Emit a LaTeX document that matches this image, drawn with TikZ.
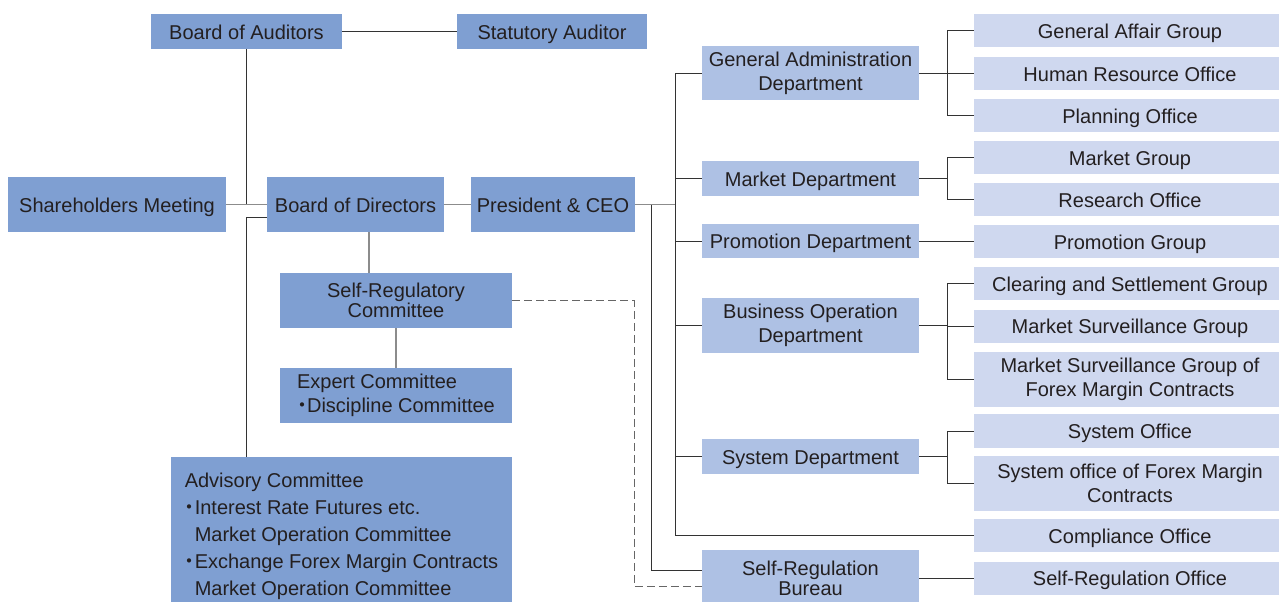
\documentclass[tikz,border=0pt]{standalone}
\usepackage{fontspec}
\setmainfont{Liberation Sans}
\newfontfamily\cjk{Noto Sans CJK JP}
\usepackage{tikz}
\usetikzlibrary{calc}

\definecolor{topblue}{RGB}{127,159,210}
\definecolor{deptblue}{RGB}{174,193,228}
\definecolor{grpblue}{RGB}{207,216,239}
\definecolor{ink}{RGB}{35,31,32}

% bullet and matching indent for the committee lists
\newcommand{\nakaguro}{\makebox[7.5pt]{\cjk ・}}
\newcommand{\indentdot}{\hspace*{7.5pt}}

\tikzset{
  boxsize/.style 2 args={minimum width=#1*0.75pt, minimum height=#2*0.75pt},
  orgbox/.style={inner sep=0pt, align=center, text=ink, font=\fontsize{15}{18}\selectfont},
  oneline/.style={text height=13pt, text depth=1.75pt},
  topbox/.style={orgbox, fill=topblue},
  deptbox/.style={orgbox, fill=deptblue, boxsize={217}{#1}},
  deptbox/.default=35,
  grpbox/.style={orgbox, fill=grpblue, boxsize={312}{#1}},
  grpbox/.default=33,
  link/.style={draw=black!80, line width=0.75pt},
  mainlink/.style={draw=black!45, line width=1.1pt},
  duallink/.style={draw=black!60, line width=0.75pt, dash pattern=on 6pt off 3pt},
}

\begin{document}
\begin{tikzpicture}[x=0.75pt, y=-0.75pt]
\useasboundingbox (0,0) rectangle (1279,601);

% governing bodies
\node[topbox, oneline, boxsize={191}{35}] (aud) at (246.5,31.5) {Board of Auditors};
\node[topbox, oneline, boxsize={190}{35}] (stat) at (552,31.5) {Statutory Auditor};
\node[topbox, oneline, boxsize={218}{55}] (share) at (117,204.5) {Shareholders Meeting};
\node[topbox, oneline, boxsize={177}{55}] (bod) at (355.5,204.5) {Board of Directors};
\node[topbox, oneline, boxsize={164}{55}] (ceo) at (553,204.5) {President \& CEO};
\node[topbox, boxsize={232}{55}, font=\fontsize{15}{15}\selectfont] (src) at (396,300.5) {Self-Regulatory\\Committee};
\node[topbox, boxsize={232}{55}, align=left] (exp) at (396,395.5) {Expert Committee\\\nakaguro Discipline Committee};
\node[topbox, boxsize={341}{158}, align=left, font=\fontsize{15}{20.25}\selectfont] (adv) at (341.5,536)
  {Advisory Committee\\\nakaguro Interest Rate Futures etc.\\\indentdot Market Operation Committee\\\nakaguro Exchange Forex Margin Contracts\\\indentdot Market Operation Committee};

% departments
\node[deptbox=54] (gad) at (810.5,73) {General Administration\\Department};
\node[deptbox, oneline] (mkt) at (810.5,178.5) {Market Department};
\node[deptbox=34, oneline] (prm) at (810.5,241) {Promotion Department};
\node[deptbox=55] (bop) at (810.5,325) {Business Operation\\Department};
\node[deptbox, oneline] (sys) at (810.5,456.5) {System Department};
\node[deptbox=56, font=\fontsize{15}{15}\selectfont] (srb) at (810.5,578) {Self-Regulation\\Bureau};

% groups and offices
\node[grpbox, oneline] (gag) at (1130,30.5) {General Affair Group};
\node[grpbox, oneline] (hro) at (1130,73.5) {Human Resource Office};
\node[grpbox, oneline] (plo) at (1130,115.5) {Planning Office};
\node[grpbox, oneline] (mkg) at (1130,157.5) {Market Group};
\node[grpbox, oneline] (rso) at (1130,199.5) {Research Office};
\node[grpbox, oneline] (prg) at (1130,241.5) {Promotion Group};
\node[grpbox, oneline] (csg) at (1130,283.5) {Clearing and Settlement Group};
\node[grpbox, oneline] (msg) at (1130,326) {Market Surveillance Group};
\node[grpbox=55] (msf) at (1130,379.5) {Market Surveillance Group of\\Forex Margin Contracts};
\node[grpbox=34, oneline] (syo) at (1130,431) {System Office};
\node[grpbox=55] (sof) at (1130,483.5) {System office of Forex Margin\\Contracts};
\node[grpbox, oneline] (cmp) at (1130,535.5) {Compliance Office};
\node[grpbox, oneline] (sro) at (1130,578) {Self-Regulation Office};

% left side links
\draw[link] (aud.east) -- (stat.west);
\draw[link] (aud.south) -- (aud.south |- share.east);
\draw[mainlink] (share.east) -- (bod.west);
\draw[link] ([yshift=-10pt]bod.west) -| (aud.south |- adv.north);
\draw[mainlink] (bod.east) -- (ceo.west);
\draw[mainlink] ([xshift=10pt]bod.south) -- ([xshift=10pt]bod.south |- src.north);
\draw[mainlink] (src.south) -- (exp.north);
\coordinate (dashbend) at (634,586);
\draw[duallink] (src.east) -| (dashbend) -- (srb.west |- dashbend);

% president to departments
\coordinate (bus) at (675,204.5);
\coordinate (srbus) at (651,204.5);
\draw[mainlink] (ceo.east) -- (bus);
\foreach \dep in {gad,mkt,prm,bop,sys,cmp}
  \draw[link] (bus) |- (\dep.west);
\draw[link] (srbus) |- ([yshift=6pt]srb.west);

% departments to groups
\foreach \dep/\grp in {gad/gag, gad/hro, gad/plo, mkt/mkg, mkt/rso, prm/prg,
    bop/csg, bop/msg, bop/msf, sys/syo, sys/sof, srb/sro}
  \draw[link] (\dep.east) -- ++(28,0) |- (\grp.west);
\end{tikzpicture}
\end{document}
